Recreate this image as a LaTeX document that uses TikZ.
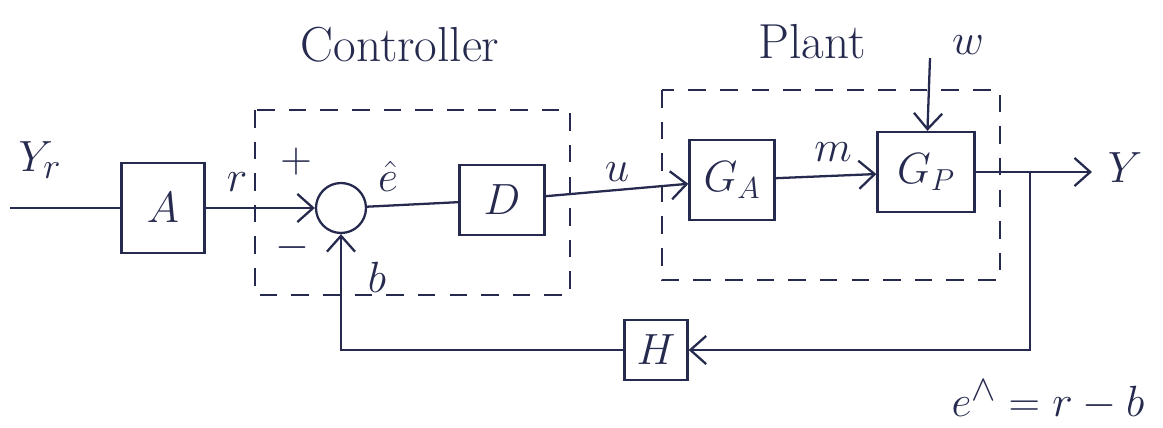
\documentclass[tikz,border=0pt]{standalone}
\usetikzlibrary{arrows.meta}
\definecolor{ink}{RGB}{38,42,78}
\begin{document}
\begin{tikzpicture}[x=0.02cm,y=-0.02cm,ink,line width=1.3pt,
  blk/.style={draw,inner sep=0pt,font=\fontsize{27}{32}\selectfont},
  lbl/.style={font=\fontsize{28}{32}\selectfont},
  grp/.style={draw,dash pattern=on 10pt off 8pt},
  >={Straight Barb[length=9pt,width=16pt]}]
\useasboundingbox (0,0) rectangle (1163,428);

% controller and plant frames
\draw[grp] (255,110) rectangle (570,295);
\draw[grp] (662,90) rectangle (1000,280);
\node[lbl] (ctrl) at (400,45) {Controller};
\node[lbl] (plant) at (812,42) {Plant};

% blocks
\node[blk,minimum width=1.66cm,minimum height=1.8cm] (A) at (163,208) {$A$};
\node[draw,circle,minimum size=1cm,inner sep=0pt] (sum) at (341,208) {};
\node[blk,minimum width=1.7cm,minimum height=1.4cm] (D) at (502,200) {$D$};
\node[blk,minimum width=1.7cm,minimum height=1.6cm] (GA) at (732,180) {$G_A$};
\node[blk,minimum width=1.94cm,minimum height=1.6cm] (GP) at (926,172) {$G_P$};
\node[blk,minimum width=1.26cm,minimum height=1.2cm] (H) at (656,350) {$H$};

\coordinate (in) at (10,208);
\coordinate (w) at (930,58);
\coordinate (yout) at (1092,172);
\coordinate (br) at (1030,172);

% signals
\draw (in) -- (A);
\draw[->] (A) -- (sum);
\draw (sum) -- (D);
\draw[->] (D) -- (GA);
\draw[->] (GA) -- (GP);
\draw[->] (w) -- (GP);
\draw[->] (GP) -- (yout);
\draw[->] (br) |- (H);
\draw[->] (H) -| (sum);

% labels
\node[lbl] (yr) at (40,160) {$Y_r$};
\node[lbl] (r) at (237,182) {$r$};
\node[lbl] (plus) at (296,162) {$+$};
\node[lbl] (minus) at (292,248) {$-$};
\node[lbl] (ehat) at (388,176) {$\hat{e}$};
\node[lbl] (b) at (377,277) {$b$};
\node[lbl] (u) at (617,172) {$u$};
\node[lbl] (m) at (833,152) {$m$};
\node[lbl] (wl) at (968,45) {$w$};
\node[lbl] (Y) at (1125,168) {$Y$};
\node[lbl] (eq) at (1048,400) {$e^{\wedge}=r-b$};

\end{tikzpicture}
\end{document}
